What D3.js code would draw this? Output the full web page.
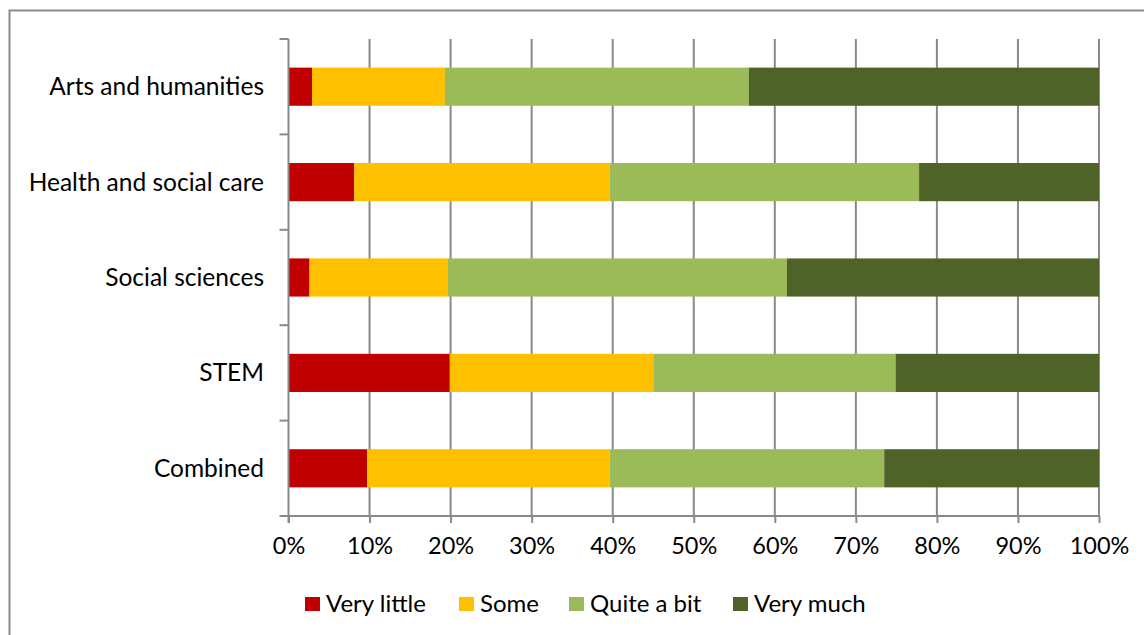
<!DOCTYPE html>
<html>
<head>
<meta charset="utf-8">
<script src="https://cdn.jsdelivr.net/npm/d3@7"></script>
<style>
  html, body { margin: 0; padding: 0; background: #ffffff; }
  svg { display: block; }
  text { font-family: "Lato", "Open Sans", sans-serif; fill: #000; }
</style>
</head>
<body>
<svg id="chart" width="1144" height="635"></svg>
<script>
// Share of responses per discipline group (percent of respondents)
const categories = ["Arts and humanities", "Health and social care", "Social sciences", "STEM", "Combined"];
const seriesNames = ["Very little", "Some", "Quite a bit", "Very much"];
const veryLittle = [2.9, 8.1, 2.6, 19.9, 9.7];
const some       = [16.4, 31.5, 17.0, 25.1, 29.9];
const quiteABit  = [37.5, 38.2, 41.9, 29.9, 33.9];
const veryMuch   = [43.2, 22.2, 38.5, 25.1, 26.5];
const tickValues = [0, 10, 20, 30, 40, 50, 60, 70, 80, 90, 100];
const colors = ["#C00000", "#FFC000", "#9BBB59", "#4F6228"];

const seriesValues = [veryLittle, some, quiteABit, veryMuch];
const rows = categories.map((c, i) => {
  const r = { category: c };
  seriesNames.forEach((s, j) => { r[s] = seriesValues[j][i]; });
  return r;
});
const stacked = d3.stack().keys(seriesNames)(rows);

const svg = d3.select("#chart");

// outer frame
svg.append("rect")
  .attr("x", 9.5).attr("y", 10.5)
  .attr("width", 1150).attr("height", 640)
  .attr("fill", "none").attr("stroke", "#8c8c8c").attr("stroke-width", 2);

const plotLeft = 288.5, plotRight = 1099, plotTop = 39, plotBottom = 516;

const x = d3.scaleLinear().domain([0, 100]).range([plotLeft, plotRight]);
const y = d3.scaleBand().domain(categories).range([plotTop, plotBottom]).padding(0);
const barH = y.bandwidth() * 0.4;

// vertical gridlines
svg.append("g")
  .selectAll("line")
  .data(tickValues.filter(v => v > 0))
  .join("line")
  .attr("x1", d => x(d)).attr("x2", d => x(d))
  .attr("y1", plotTop).attr("y2", plotBottom)
  .attr("stroke", "#898989").attr("stroke-width", 2);

// stacked bars
svg.append("g")
  .selectAll("g")
  .data(stacked)
  .join("g")
  .attr("fill", (d, i) => colors[i])
  .selectAll("rect")
  .data(d => d)
  .join("rect")
  .attr("x", d => x(d[0]))
  .attr("width", d => x(d[1]) - x(d[0]))
  .attr("y", d => y(d.data.category) + (y.bandwidth() - barH) / 2)
  .attr("height", barH);

// x axis
const xAxis = d3.axisBottom(x)
  .tickValues(tickValues)
  .tickFormat(d => d + "%")
  .tickSize(7)
  .tickSizeOuter(0)
  .tickPadding(14);
const gx = svg.append("g").attr("transform", `translate(0,${plotBottom})`).call(xAxis);
gx.select(".domain").attr("stroke", "#898989").attr("stroke-width", 2)
  .attr("d", `M${plotLeft - 8},0H${plotRight}`);
gx.selectAll(".tick line").attr("stroke", "#898989").attr("stroke-width", 2);
gx.selectAll(".tick text").attr("font-size", 23.5).attr("fill", "#000")
  .style("font-family", "Lato, 'Open Sans', sans-serif");

// y axis with ticks at the band boundaries
const gy = svg.append("g");
gy.append("line")
  .attr("x1", plotLeft).attr("x2", plotLeft)
  .attr("y1", plotTop).attr("y2", plotBottom + 7)
  .attr("stroke", "#898989").attr("stroke-width", 2);
const boundaries = categories.map(c => y(c)).concat([plotBottom]);
gy.selectAll("line.tk")
  .data(boundaries)
  .join("line")
  .attr("class", "tk")
  .attr("x1", plotLeft - 9).attr("x2", plotLeft)
  .attr("y1", d => d).attr("y2", d => d)
  .attr("stroke", "#898989").attr("stroke-width", 2);
gy.selectAll("text")
  .data(categories)
  .join("text")
  .attr("x", 264)
  .attr("y", d => y(d) + y.bandwidth() / 2)
  .attr("dy", "0.35em")
  .attr("text-anchor", "end")
  .attr("font-size", 24.5)
  .text(d => d);

// legend
const legendX = [305, 459, 569, 733];
const legend = svg.append("g");
seriesNames.forEach((s, i) => {
  legend.append("rect")
    .attr("x", legendX[i]).attr("y", 597)
    .attr("width", 15).attr("height", 14)
    .attr("fill", colors[i]);
  legend.append("text")
    .attr("x", legendX[i] + 21).attr("y", 612)
    .attr("font-size", 24)
    .text(s);
});
</script>
</body>
</html>
